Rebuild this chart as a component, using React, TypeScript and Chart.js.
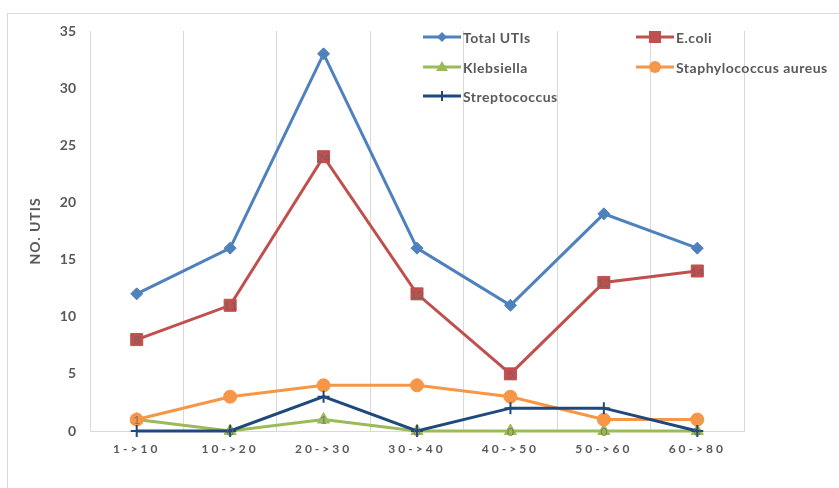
import React, { useEffect, useRef } from 'react';
import { Chart, registerables } from 'chart.js';

Chart.register(...registerables);

const categories = ['1->10', '10->20', '20->30', '30->40', '40->50', '50->60', '60->80'];
const totalUTIs = [12, 16, 33, 16, 11, 19, 16];
const eColi = [8, 11, 24, 12, 5, 13, 14];
const klebsiella = [1, 0, 1, 0, 0, 0, 0];
const staphAureus = [1, 3, 4, 4, 3, 1, 1];
const streptococcus = [0, 0, 3, 0, 2, 2, 0];

const yMin = 0;
const yMax = 35;
const yStep = 5;

const seriesNames = ['Total UTIs', 'E.coli', 'Klebsiella', 'Staphylococcus aureus', 'Streptococcus'];
const seriesColors = ['#4F81BD', '#C0504D', '#9BBB59', '#F79646', '#1F497D'];
const seriesStyles = ['rectRot', 'rect', 'triangle', 'circle', 'cross'];
const seriesRadius = [6, 8.5, 7, 6.5, 6];
const labelledSeries = [1, 2];

const TEXT = '#595959';
const FONT = 'Lato, "Open Sans", sans-serif';

function drawMarker(ctx: CanvasRenderingContext2D, style: string, x: number, y: number, color: string) {
  ctx.save();
  ctx.fillStyle = color;
  ctx.strokeStyle = color;
  ctx.beginPath();
  if (style === 'rectRot') {
    const r = 5;
    ctx.moveTo(x, y - r);
    ctx.lineTo(x + r, y);
    ctx.lineTo(x, y + r);
    ctx.lineTo(x - r, y);
    ctx.closePath();
    ctx.fill();
  } else if (style === 'rect') {
    ctx.rect(x - 6, y - 6, 12, 12);
    ctx.fill();
  } else if (style === 'triangle') {
    ctx.moveTo(x, y - 6);
    ctx.lineTo(x + 6, y + 4);
    ctx.lineTo(x - 6, y + 4);
    ctx.closePath();
    ctx.fill();
  } else if (style === 'circle') {
    ctx.arc(x, y, 6, 0, Math.PI * 2);
    ctx.fill();
  } else if (style === 'cross') {
    ctx.lineWidth = 2;
    ctx.moveTo(x, y - 5);
    ctx.lineTo(x, y + 5);
    ctx.stroke();
  }
  ctx.restore();
}

const framePlugin = {
  id: 'frame',
  beforeDraw(chart: any) {
    const ctx = chart.ctx;
    ctx.save();
    ctx.fillStyle = '#ffffff';
    ctx.fillRect(0, 0, chart.width, chart.height);
    ctx.strokeStyle = '#d9d9d9';
    ctx.lineWidth = 1;
    ctx.strokeRect(7.5, 13.5, chart.width + 20, chart.height + 20);
    ctx.restore();
  },
};

const spacingPlugin = {
  id: 'letterSpacing',
  afterLayout(chart: any) {
    const xs = chart.scales.x;
    if (xs && !xs.__patched) {
      const orig = xs.drawLabels.bind(xs);
      xs.drawLabels = (area: any) => {
        const ctx = chart.ctx;
        ctx.save();
        ctx.letterSpacing = '3px';
        orig(area);
        ctx.restore();
      };
      xs.__patched = true;
    }
    const ys = chart.scales.y;
    if (ys && !ys.__patched) {
      const origT = ys.drawTitle.bind(ys);
      ys.drawTitle = (area: any) => {
        const ctx = chart.ctx;
        ctx.save();
        ctx.letterSpacing = '1px';
        origT(area);
        ctx.restore();
      };
      ys.__patched = true;
    }
  },
};

const labelsPlugin = {
  id: 'pointLabels',
  afterDatasetsDraw(chart: any) {
    const ctx = chart.ctx;
    ctx.save();
    ctx.font = `12px ${FONT}`;
    ctx.fillStyle = 'rgba(100,100,100,0.75)';
    ctx.textAlign = 'center';
    ctx.textBaseline = 'middle';
    labelledSeries.forEach((di) => {
      const meta = chart.getDatasetMeta(di);
      const data = chart.data.datasets[di].data;
      meta.data.forEach((pt: any, i: number) => {
        ctx.fillText(String(data[i]), pt.x, pt.y + 1);
      });
    });
    ctx.restore();
  },
};

const legendPlugin = {
  id: 'customLegend',
  afterDraw(chart: any) {
    const ctx = chart.ctx;
    const cols = [423, 636];
    const rows = [37, 67, 96];
    ctx.save();
    ctx.font = `bold 14px ${FONT}`;
    ctx.letterSpacing = '0.5px';
    ctx.textBaseline = 'middle';
    ctx.textAlign = 'left';
    seriesNames.forEach((name, i) => {
      const x = cols[i % 2];
      const y = rows[Math.floor(i / 2)];
      const color = seriesColors[i];
      ctx.strokeStyle = color;
      ctx.lineWidth = 3;
      ctx.beginPath();
      ctx.moveTo(x, y);
      ctx.lineTo(x + 38, y);
      ctx.stroke();
      drawMarker(ctx, seriesStyles[i], x + 19, y, color);
      ctx.fillStyle = TEXT;
      ctx.fillText(name, x + 40, y + 1);
    });
    ctx.restore();
  },
};

export default function App() {
  const canvasRef = useRef<HTMLCanvasElement | null>(null);

  useEffect(() => {
    const canvas = canvasRef.current;
    if (!canvas) return;
    const seriesData = [totalUTIs, eColi, klebsiella, staphAureus, streptococcus];
    const datasets = seriesData.map((d, i) => ({
      label: seriesNames[i],
      data: d,
      borderColor: seriesColors[i],
      backgroundColor: seriesColors[i],
      borderWidth: 3,
      pointStyle: seriesStyles[i] as any,
      pointRadius: seriesRadius[i],
      pointBorderWidth: seriesStyles[i] === 'cross' ? 2 : 1,
      pointBackgroundColor: seriesColors[i],
      pointBorderColor: seriesColors[i],
      tension: 0,
      clip: false as any,
      order: 5 - i,
    }));

    const chart = new Chart(canvas, {
      type: 'line',
      data: { labels: categories, datasets },
      plugins: [framePlugin, spacingPlugin, labelsPlugin, legendPlugin],
      options: {
        responsive: false,
        animation: false,
        devicePixelRatio: 1,
        layout: { padding: { top: 31, right: 95, left: 0, bottom: 0 } },
        plugins: {
          legend: { display: false },
          tooltip: { enabled: false },
        },
        scales: {
          x: {
            type: 'category',
            offset: true,
            grid: { display: true, offset: true, color: '#d9d9d9', lineWidth: 1, drawTicks: false },
            border: { display: true, color: '#d9d9d9', width: 1 },
            ticks: {
              color: TEXT,
              font: { family: FONT, size: 12, weight: 'bold' },
              padding: 11,
              maxRotation: 0,
              autoSkip: false,
            },
            afterFit: (scale: any) => {
              scale.height = 57;
            },
          },
          y: {
            min: yMin,
            max: yMax,
            grid: { display: false, drawTicks: false },
            border: { display: false },
            ticks: {
              stepSize: yStep,
              color: TEXT,
              font: { family: FONT, size: 14, weight: 'bold' },
              padding: 14,
            },
            title: {
              display: true,
              text: 'NO. UTIS',
              color: TEXT,
              font: { family: FONT, size: 14, weight: 'bold' },
              padding: { top: 27, bottom: 0 },
            },
            afterFit: (scale: any) => {
              scale.width = 90;
            },
          },
        },
      },
    });
    return () => chart.destroy();
  }, []);

  return (
    <div style={{ position: 'absolute', left: 0, top: 0, width: 839, height: 488 }}>
      <canvas ref={canvasRef} width={839} height={488} style={{ display: 'block', width: 839, height: 488 }} />
    </div>
  );
}
